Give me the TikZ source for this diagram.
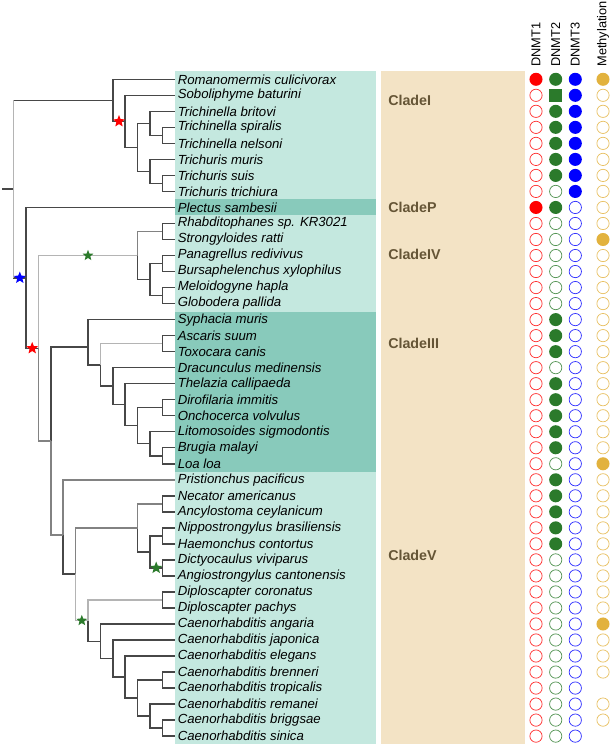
\documentclass[tikz,border=0pt]{standalone}
\usepackage{fontspec}
\setmainfont{Liberation Sans}
\usetikzlibrary{calc,shapes.geometric}

\definecolor{leafbg}{HTML}{C4E8DF}
\definecolor{cladebg}{HTML}{88CABB}
\definecolor{tanbg}{HTML}{F3E3C5}
\definecolor{cladetxt}{HTML}{655536}
\definecolor{dnmtred}{HTML}{FF0000}
\definecolor{dnmtgreen}{HTML}{2B7A2B}
\definecolor{dnmtblue}{HTML}{0000FF}
\definecolor{methgold}{HTML}{E2B23E}
\definecolor{brdark}{HTML}{474747}
\definecolor{brmid}{HTML}{828282}
\definecolor{brlight}{HTML}{B4B4B4}

\tikzset{
  br/.style={draw=brdark, line width=1.1pt},
  brm/.style={draw=brmid, line width=1.1pt},
  brl/.style={draw=brlight, line width=1.1pt},
  taxon/.style={anchor=west, inner sep=0pt, font=\fontsize{9.9}{12}\selectfont\itshape},
  clade/.style={anchor=west, inner sep=0pt, text=cladetxt, font=\fontsize{10.7}{12}\selectfont\bfseries},
  colhead/.style={rotate=90, anchor=west, inner sep=0pt, font=\fontsize{9.6}{12}\selectfont},
  symfill/.style={circle, inner sep=0pt, minimum size=9.8pt, fill=#1},
  symopen/.style={circle, inner sep=0pt, minimum size=9.2pt, draw=#1!80, line width=0.55pt},
  symsq/.style={rectangle, inner sep=0pt, minimum size=9.8pt, fill=#1},
  sigstar/.style={star, star points=5, star point ratio=2.3, inner sep=0pt, minimum size=#1}
}

\begin{document}
\begin{tikzpicture}[x=0.75pt, y=-12.015pt]
\useasboundingbox (0,-4.95) rectangle (611,41.617);

\fill[leafbg] (175,-0.5) rectangle (376,41.5);
\fill[cladebg] (175,7.5) rectangle (376,8.5);
\fill[cladebg] (175,14.5) rectangle (376,24.5);
\fill[tanbg] (381,-0.5) rectangle (525,41.5);

\foreach \sp [count=\i from 0] in {Romanomermis culicivorax, Soboliphyme baturini,
    Trichinella britovi, Trichinella spiralis, Trichinella nelsoni, Trichuris muris,
    Trichuris suis, Trichuris trichiura, Plectus sambesii, Rhabditophanes sp. KR3021,
    Strongyloides ratti, Panagrellus redivivus, Bursaphelenchus xylophilus,
    Meloidogyne hapla, Globodera pallida, Syphacia muris, Ascaris suum, Toxocara canis,
    Dracunculus medinensis, Thelazia callipaeda, Dirofilaria immitis, Onchocerca volvulus,
    Litomosoides sigmodontis, Brugia malayi, Loa loa, Pristionchus pacificus,
    Necator americanus, Ancylostoma ceylanicum, Nippostrongylus brasiliensis,
    Haemonchus contortus, Dictyocaulus viviparus, Angiostrongylus cantonensis,
    Diploscapter coronatus, Diploscapter pachys, Caenorhabditis angaria,
    Caenorhabditis japonica, Caenorhabditis elegans, Caenorhabditis brenneri,
    Caenorhabditis tropicalis, Caenorhabditis remanei, Caenorhabditis briggsae,
    Caenorhabditis sinica}
{
  \coordinate (l\i) at (174.8,\i);
  \node[taxon] (t\i) at (177.5,\i) {\sp};
}

\coordinate (a1) at (162.4,3.5);
\coordinate (a2) at (150,2.75);
\coordinate (a3) at (162.4,6.5);
\coordinate (a4) at (150,5.75);
\coordinate (a5) at (137.6,4.25);
\coordinate (a6) at (125.2,2.625);
\coordinate (a7) at (112.8,1.3125);
\coordinate (b1) at (162.4,9.5);
\coordinate (b2) at (162.4,11.5);
\coordinate (b3) at (162.4,13.5);
\coordinate (b4) at (150,12.5);
\coordinate (b5) at (137.6,11);
\coordinate (c1) at (162.4,16.5);
\coordinate (c2) at (162.4,20.5);
\coordinate (c3) at (162.4,23.5);
\coordinate (c4) at (150,22.75);
\coordinate (c5) at (137.6,21.625);
\coordinate (c6) at (125.2,20.3125);
\coordinate (c7) at (112.8,19.1563);
\coordinate (c8) at (100.4,17.8281);
\coordinate (c9) at (88,16.7141);
\coordinate (d1) at (162.4,26.5);
\coordinate (d2) at (162.4,28.5);
\coordinate (d3) at (162.4,30.5);
\coordinate (d4) at (150,29.5);
\coordinate (d5) at (137.6,28);
\coordinate (d6) at (75.6,30.8945);
\coordinate (d7) at (63.2,28.4473);
\coordinate (e1) at (162.4,32.5);
\coordinate (e2) at (162.4,40.5);
\coordinate (e3) at (150,39.75);
\coordinate (e4) at (162.4,37.5);
\coordinate (e5) at (137.6,38.625);
\coordinate (e6) at (125.2,37.3125);
\coordinate (e7) at (112.8,36.1563);
\coordinate (e8) at (100.4,35.0781);
\coordinate (e9) at (88,33.7891);
\coordinate (f1) at (50.8,22.5807);
\coordinate (f2) at (38.4,16.7903);
\coordinate (f3) at (26,12.3952);
\coordinate (root) at (13.6,6.8538);
\coordinate (stub) at (2,6.8538);

\draw[br] (stub) -- (root);
\foreach \p/\c in {root/a7, root/f3, a7/l0, a7/a6, a6/l1, a6/a5, a5/a2, a5/a4,
    a2/l2, a2/a1, a1/l3, a1/l4, a4/l5, a4/a3, a3/l6, a3/l7,
    f3/l8, f3/f2, f2/b5, f2/f1, b5/b1, b5/b4, b1/l9, b1/l10, b4/b2, b4/b3,
    b2/l11, b2/l12, b3/l13, b3/l14, f1/c9, f1/d7, c9/l15, c9/c8, c8/c1, c8/c7,
    c1/l16, c1/l17, c7/l18, c7/c6, c6/l19, c6/c5, c5/c2, c5/c4, c2/l20, c2/l21,
    c4/l22, c4/c3, c3/l23, c3/l24, d7/l25, d7/d6, d6/d5, d6/e9, d5/d1, d5/d4,
    d1/l26, d1/l27, d4/d2, d4/d3, d2/l28, d2/l29, d3/l30, d3/l31, e9/e1, e9/e8,
    e1/l32, e1/l33, e8/l34, e8/e7, e7/l35, e7/e6, e6/l36, e6/e5, e5/e4, e5/e3,
    e4/l37, e4/l38, e3/l39, e3/e2, e2/l40, e2/l41}
  \draw[br] (\p) |- (\c);

\draw[brl] (root |- a7) -- (root |- f3);
\draw[brl] (f2) |- (b5);
\draw[brm] (f2) |- (f1);
\draw[brm] (f1) |- (d7);
\draw[brl] (c8) |- (c1);
\draw[brm] (d7) |- (l25);
\draw[brm] (d6) |- (d5);
\draw[brl] (d6) |- (e9);
\draw[brl] (e9) |- (e1);
\draw[brm] (b5) |- (b1);
\draw[brm] (d5) |- (d1);

\node[sigstar=9.5pt, fill=red] (st1) at ($(a7 |- a6)!.5!(a6)$) {};
\node[sigstar=9.5pt, fill=blue] (st2) at ($(root |- f3)!.5!(f3)$) {};
\node[sigstar=9.5pt, fill=red] (st3) at ($(f3 |- f2)!.5!(f2)$) {};
\node[sigstar=8.5pt, fill=dnmtgreen] (st4) at ($(f2 |- b5)!.5!(b5)$) {};
\node[sigstar=9.5pt, fill=dnmtgreen] (st5) at ($(d4 |- d3)!.5!(d3)$) {};
\node[sigstar=8.5pt, fill=dnmtgreen] (st6) at ($(d6 |- e9)!.5!(e9)$) {};

\node[clade] (cI) at (388,1.3) {CladeI};
\node[clade] (cP) at (388,7.97) {CladeP};
\node[clade] (cIV) at (388,10.9) {CladeIV};
\node[clade] (cIII) at (388,16.5) {CladeIII};
\node[clade] (cV) at (388,29.75) {CladeV};

\node[colhead] (h1) at (536,-0.78) {DNMT1};
\node[colhead] (h2) at (555.7,-0.78) {DNMT2};
\node[colhead] (h3) at (575.3,-0.78) {DNMT3};
\node[colhead] (h4) at (603,-0.78) {Methylation};

\foreach \r in {0,8}
  \node[symfill=dnmtred] (m1-\r) at (536,\r) {};
\foreach \r in {1,...,7,9,10,...,41}
  \node[symopen=dnmtred] (m1-\r) at (536,\r) {};
\foreach \r in {0,2,3,...,6,8,15,16,17,19,20,...,23,25,26,...,29}
  \node[symfill=dnmtgreen] (m2-\r) at (555.7,\r) {};
\node[symsq=dnmtgreen] (m2-1) at (555.7,1) {};
\foreach \r in {7,9,10,...,14,18,24,30,31,...,41}
  \node[symopen=dnmtgreen] (m2-\r) at (555.7,\r) {};
\foreach \r in {0,...,7}
  \node[symfill=dnmtblue] (m3-\r) at (575.3,\r) {};
\foreach \r in {8,...,41}
  \node[symopen=dnmtblue] (m3-\r) at (575.3,\r) {};
\foreach \r in {0,10,24,34}
  \node[symfill=methgold] (m4-\r) at (603,\r) {};
\foreach \r in {1,...,9,11,12,...,23,25,26,...,33,35,36,37,39,40}
  \node[symopen=methgold] (m4-\r) at (603,\r) {};
\end{tikzpicture}
\end{document}
